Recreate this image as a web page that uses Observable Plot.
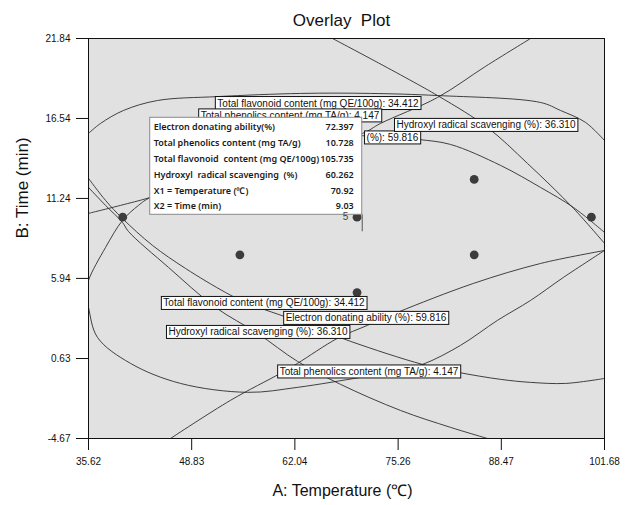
<!DOCTYPE html>
<html><head><meta charset="utf-8">
<script src="https://cdn.jsdelivr.net/npm/d3@7"></script>
<script src="https://cdn.jsdelivr.net/npm/@observablehq/plot@0.6"></script>
<style>body{margin:0;background:#fff;}</style>
</head><body><div id="chart"></div>
<script>
// ---- axis ticks ----
const xTicks = [35.62, 48.83, 62.04, 75.26, 88.47, 101.68];
const yTicks = [21.84, 16.54, 11.24, 5.94, 0.63, -4.67];

// ---- design points (A: temperature, B: time) ----
const designA = [40, 55, 55, 70, 70, 70, 85, 85, 100];
const designB = [10, 7.5, 12.5, 5, 10, 15, 7.5, 12.5, 10];
const centerCount = "5";

// ---- contour curves ----
const flavUpperA = [35.62, 37.16, 40.10, 44.45, 52.13, 62.76, 71.72, 80.30, 93.49, 96.05, 99.25, 101.68];
const flavUpperB = [15.55, 16.21, 17.07, 17.73, 17.99, 18.20, 18.20, 18.06, 17.60, 17.07, 16.28, 15.08];
const flavLowerA = [35.62, 37.80, 39.97, 43.81, 48.04, 53.16, 55.72, 62.76, 69.16, 78.38, 82.99, 88.37, 92.21, 96.69, 101.68];
const flavLowerB = [12.57, 11.11, 9.91, 8.13, 6.60, 5.01, 4.35, 3.04, 1.77, 0.24, -0.29, -0.75, -0.95, -1.02, -0.69];
const phenA = [101.68, 96.43, 92.21, 87.98, 83.24, 78.38, 74.28, 70.44, 62.38, 55.98, 47.40, 40.99, 36.77, 35.62, 35.30, 35.62, 37.80, 39.97, 42.02, 43.56, 56.36, 70.70, 73.00, 80.30, 86.44, 92.21];
const phenB = [7.79, 6.01, 4.48, 3.16, 1.50, 0.24, -0.29, -0.62, -1.28, -1.61, -1.02, 0.31, 2.03, 4.02, 4.90, 5.81, 7.99, 9.78, 10.78, 11.31, 13.56, 15.55, 16.21, 17.93, 19.99, 21.84];
const edaUpperA = [35.62, 39.72, 43.56, 56.36, 66.60, 74.28, 77.86, 81.96, 88.37, 93.49, 97.71, 101.68];
const edaUpperB = [10.25, 10.78, 11.31, 13.43, 15.22, 15.35, 15.15, 14.82, 13.43, 11.97, 10.64, 8.99];
const edaLowerA = [46.12, 53.80, 60.20, 62.38, 67.50, 71.34, 75.18, 84.91, 93.49, 101.68];
const edaLowerB = [-4.67, -2.14, -0.35, 0.31, 1.97, 2.83, 3.69, 5.61, 6.93, 7.79];
const hrsUpperA = [66.86, 80.30, 86.70, 91.82, 97.71, 101.68];
const hrsUpperB = [21.84, 18.06, 15.94, 13.56, 10.58, 8.26];
const hrsLowerA = [35.62, 37.80, 39.97, 40.74, 45.86, 51.88, 57.26, 62.38, 67.88, 75.56, 81.96, 86.70];
const hrsLowerB = [11.97, 10.78, 9.65, 9.05, 6.67, 4.02, 2.30, 0.44, -1.08, -2.81, -3.93, -4.67];

// ---- contour labels (the upper electron-donating label is mostly hidden by the flag; only its tail shows) ----
const labelText = [
  "Total flavonoid content (mg QE/100g): 34.412",
  "Total phenolics content (mg TA/g): 4.147",
  "Hydroxyl radical scavenging (%): 36.310",
  "Total flavonoid content (mg QE/100g): 34.412",
  "Electron donating ability (%): 59.816",
  "Hydroxyl radical scavenging (%): 36.310",
  "Total phenolics content (mg TA/g): 4.147"
];
const labelA = [65.06, 61.48, 86.57, 58.15, 71.21, 57.38, 71.59];
const labelB = [17.53, 16.71, 16.08, 4.28, 3.29, 2.36, -0.26];
const hiddenLabelTail = "(%): 59.816";
const hiddenLabelA = 77.90, hiddenLabelB = 15.25;

// ---- flag tooltip ----
const flagA = 70.92, flagB = 9.03;
const tipNames = [
  "Electron donating ability(%)",
  "Total phenolics content (mg TA/g)",
  "Total flavonoid  content (mg QE/100g)",
  "Hydroxyl  radical scavenging  (%)",
  "X1 = Temperature (\u2103)",
  "X2 = Time (min)"
];
const tipValues = ["72.397", "10.728", "105.735", "60.262", "70.92", "9.03"];

// ---- build tables ----
const curveSets = [
  ["flavU", flavUpperA, flavUpperB], ["flavL", flavLowerA, flavLowerB],
  ["phen", phenA, phenB],
  ["edaU", edaUpperA, edaUpperB], ["edaL", edaLowerA, edaLowerB],
  ["hrsU", hrsUpperA, hrsUpperB], ["hrsL", hrsLowerA, hrsLowerB]
];
const curveRows = curveSets.flatMap(([id, xs, ys]) => xs.map((x, i) => ({curve: id, x, y: ys[i]})));
const points = designA.map((x, i) => ({x, y: designB[i]}));

const plot = Plot.plot({
  width: 634, height: 505,
  marginLeft: 88, marginRight: 30, marginTop: 38, marginBottom: 67,
  style: {fontFamily: "'Liberation Sans', Arial, sans-serif", background: "#fff", color: "#111"},
  x: {domain: [35.62, 101.68]},
  y: {domain: [-4.67, 21.84]},
  marks: [
    Plot.frame({fill: "#e1e1e1", stroke: "none"}),
    Plot.line(curveRows, {x: "x", y: "y", z: "curve", stroke: "#2e2e2e", strokeWidth: 0.9, curve: "catmull-rom", clip: true}),
    Plot.dot(points, {x: "x", y: "y", r: 4.4, fill: "#3c3c3c", stroke: "none"}),
    Plot.frame({stroke: "#111", strokeWidth: 1}),
    Plot.axisX({ticks: xTicks, tickFormat: d => d.toFixed(2), tickSize: 12, tickPadding: 7, fontSize: 10, label: null, stroke: "#111"}),
    Plot.axisY({ticks: yTicks, tickFormat: d => d.toFixed(2), tickSize: 12, tickPadding: 6, fontSize: 10, label: null, stroke: "#111"}),
    Plot.text(["Overlay  Plot"], {frameAnchor: "top", lineAnchor: "middle", dy: -18, dx: -5, fontSize: 17}),
    Plot.text(["A: Temperature (\u2103)"], {frameAnchor: "bottom", lineAnchor: "middle", dy: 52, dx: -4, fontSize: 16}),
    Plot.text(["B: Time (min)"], {frameAnchor: "left", rotate: -90, dx: -66, fontSize: 17})
  ]
});
document.getElementById("chart").append(plot);

const sx = plot.scale("x"), sy = plot.scale("y");
const svg = d3.select(plot);

// boxed contour labels placed through the plot's scales
function boxedLabel(layer, text, px, py, anchor) {
  const t = layer.append("text").attr("x", px).attr("y", py).attr("dy", "0.35em")
    .attr("text-anchor", anchor).attr("font-size", 10).attr("fill", "#111").text(text);
  const bb = t.node().getBBox();
  layer.insert("rect", () => t.node())
    .attr("x", bb.x - 2).attr("y", bb.y - 1).attr("width", bb.width + 4).attr("height", bb.height + 2)
    .attr("fill", "#fff").attr("stroke", "#111").attr("stroke-width", 1);
}
const labLayer = svg.append("g");
boxedLabel(labLayer, hiddenLabelTail, sx.apply(hiddenLabelA), sy.apply(hiddenLabelB), "end");
labelText.forEach((t, i) => boxedLabel(labLayer, t, sx.apply(labelA[i]), sy.apply(labelB[i]), "middle"));

// flag tooltip anchored at the flag point through the plot's scales
const fx = sx.apply(flagA), fy = sy.apply(flagB);
const tipW = 212, tipH = 97;
const tipLeft = fx - tipW - 2, tipTop = fy - 114;
const tip = svg.append("g");
tip.append("line").attr("x1", fx - 1.5).attr("x2", fx - 1.5).attr("y1", tipTop + tipH).attr("y2", fy).attr("stroke", "#555");
tip.append("rect").attr("x", tipLeft).attr("y", tipTop).attr("width", tipW).attr("height", tipH)
  .attr("fill", "#fff").attr("stroke", "#8a8a8a");
tipNames.forEach((n, i) => {
  const yy = tipTop + 10 + i * 15.8;
  tip.append("text").attr("x", tipLeft + 4).attr("y", yy).attr("dy", "0.35em").attr("text-anchor", "start")
    .attr("font-family", "'Noto Sans', 'DejaVu Sans', sans-serif").attr("font-size", 9).attr("font-weight", 600)
    .attr("fill", "#1a1a1a").text(n);
  tip.append("text").attr("x", tipLeft + tipW - 8).attr("y", yy).attr("dy", "0.35em").attr("text-anchor", "end")
    .attr("font-family", "'Noto Sans', 'DejaVu Sans', sans-serif").attr("font-size", 9).attr("font-weight", 600)
    .attr("fill", "#1a1a1a").text(tipValues[i]);
});
// center-point replicate count
svg.append("text").attr("x", sx.apply(70) - 11).attr("y", sy.apply(10)).attr("dy", "0.35em")
  .attr("font-size", 10).attr("fill", "#444").attr("text-anchor", "middle").text(centerCount);
</script>
</body></html>
